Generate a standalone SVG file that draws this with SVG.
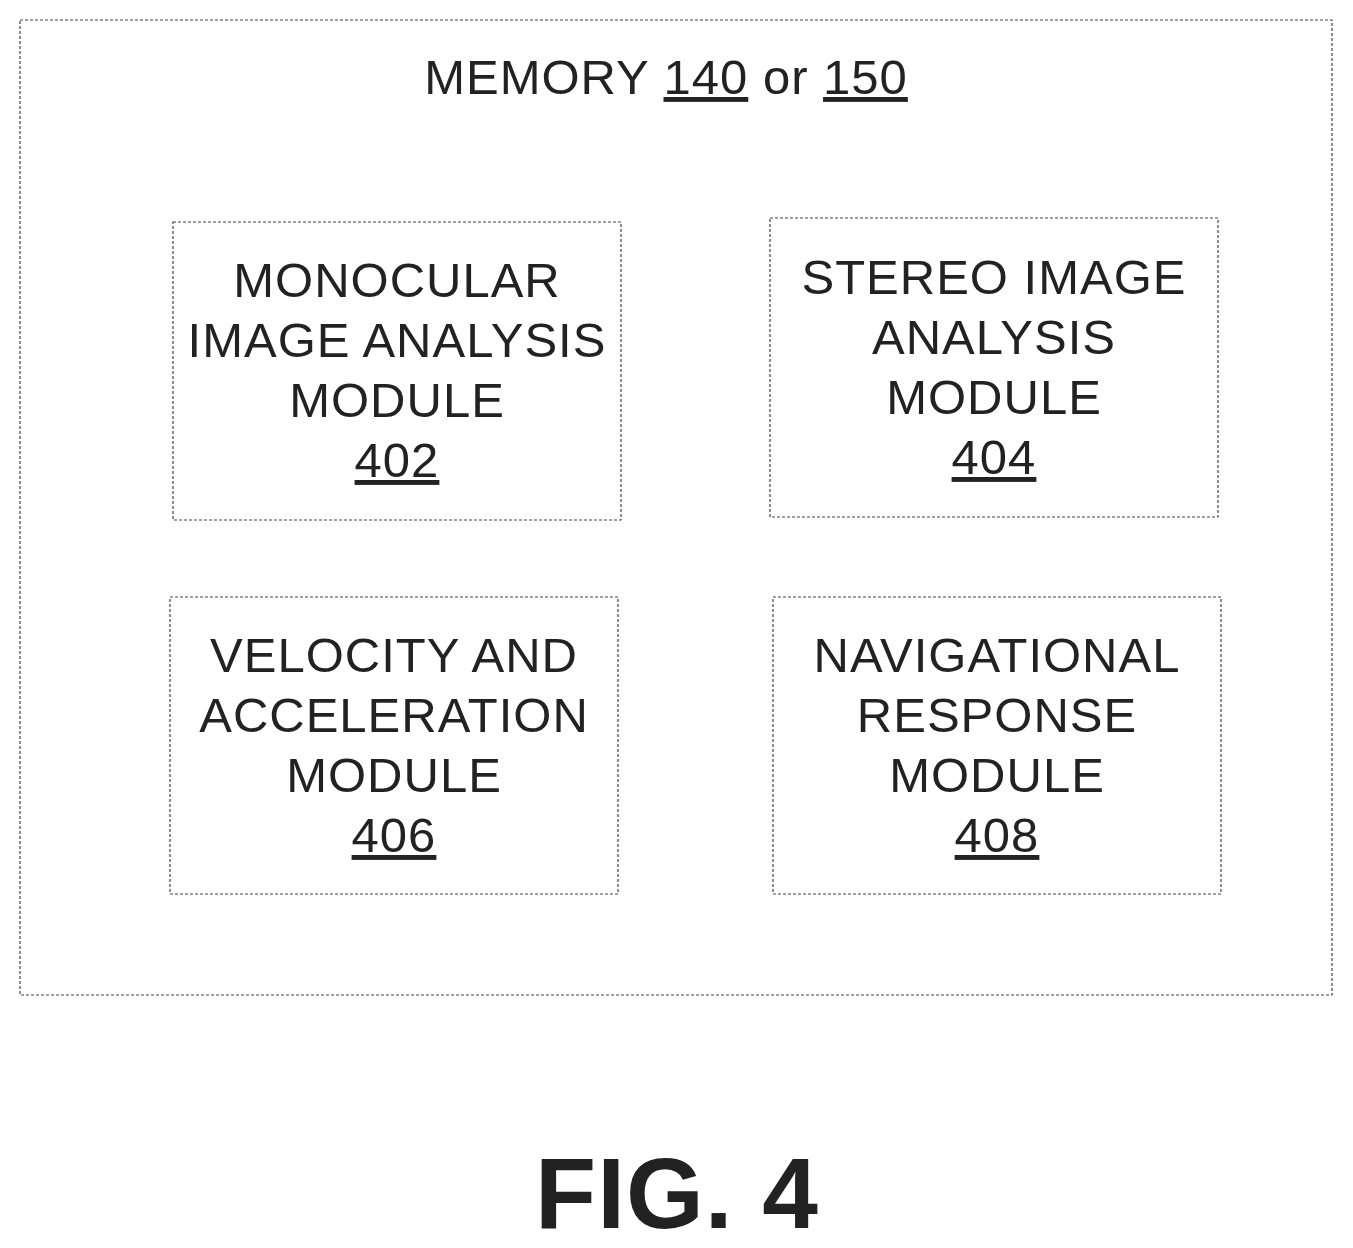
<svg xmlns="http://www.w3.org/2000/svg" width="1353" height="1248" viewBox="0 0 1353 1248">
<style>
.b{fill:none;stroke:#444;stroke-width:1.2;stroke-dasharray:3 2}
.t{font-family:"Liberation Sans",Arial,sans-serif;font-size:49px;fill:#222;text-anchor:middle;letter-spacing:1px}
.u{text-decoration:underline}
</style>
<rect width="1353" height="1248" fill="#fff"/>
<g id="memory">
<rect class="b" x="20" y="20" width="1312" height="975"/>
<text class="t" x="666" y="94" style="font-size:49px">MEMORY <tspan class="u">140</tspan> or <tspan class="u">150</tspan></text>
</g>
<g id="n402">
<rect class="b" x="173" y="222" width="448" height="298"/>
<text class="t" x="397" y="297">MONOCULAR</text>
<text class="t" x="397" y="357">IMAGE ANALYSIS</text>
<text class="t" x="397" y="417">MODULE</text>
<text class="t u" x="397" y="477">402</text>
</g>
<g id="n404">
<rect class="b" x="770" y="218" width="448" height="299"/>
<text class="t" x="994" y="294">STEREO IMAGE</text>
<text class="t" x="994" y="354">ANALYSIS</text>
<text class="t" x="994" y="414">MODULE</text>
<text class="t u" x="994" y="474">404</text>
</g>
<g id="n406">
<rect class="b" x="170" y="597" width="448" height="297"/>
<text class="t" x="394" y="672">VELOCITY AND</text>
<text class="t" x="394" y="732">ACCELERATION</text>
<text class="t" x="394" y="792">MODULE</text>
<text class="t u" x="394" y="852">406</text>
</g>
<g id="n408">
<rect class="b" x="773" y="597" width="448" height="297"/>
<text class="t" x="997" y="672">NAVIGATIONAL</text>
<text class="t" x="997" y="732">RESPONSE</text>
<text class="t" x="997" y="792">MODULE</text>
<text class="t u" x="997" y="852">408</text>
</g>
<g id="connectors"/>
<text class="t" x="677" y="1228" style="font-size:100px;font-weight:bold">FIG. 4</text>
</svg>
